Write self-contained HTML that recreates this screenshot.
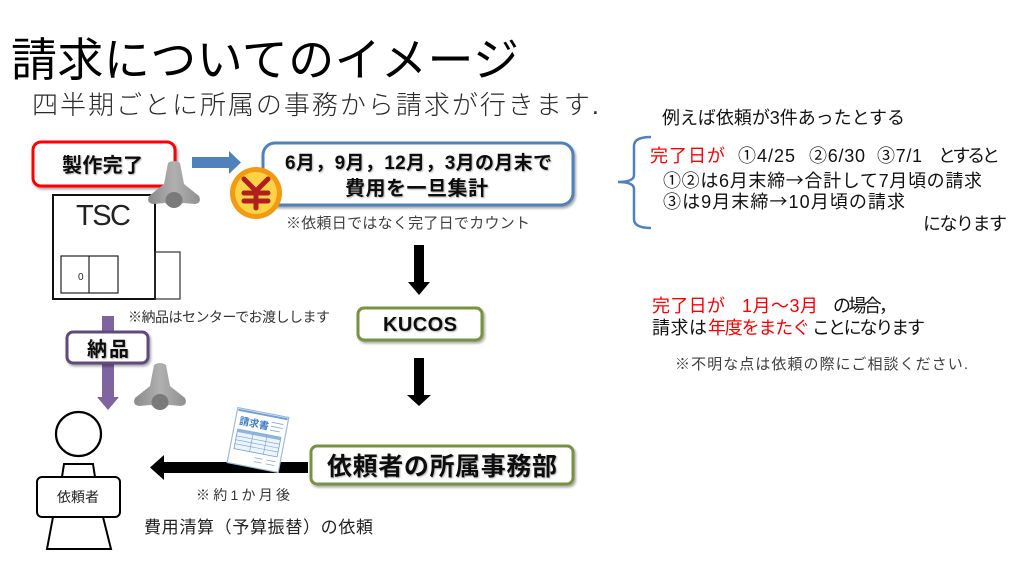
<!DOCTYPE html>
<html><head><meta charset="utf-8">
<style>
html,body{margin:0;padding:0;background:#fff;}
svg{display:block;}
text{font-family:"Liberation Sans","Noto Sans CJK JP",sans-serif;}
</style></head>
<body>
<svg width="1024" height="576" viewBox="0 0 1024 576" xmlns="http://www.w3.org/2000/svg">
<defs>
<filter id="sh" x="-10%" y="-20%" width="130%" height="150%">
<feDropShadow dx="1.5" dy="2" stdDeviation="1.2" flood-color="#000" flood-opacity="0.35"/>
</filter>
<filter id="ts" x="-5%" y="-20%" width="115%" height="150%">
<feDropShadow dx="1" dy="1" stdDeviation="0.8" flood-color="#000" flood-opacity="0.3"/>
</filter>
<linearGradient id="dg" x1="0" y1="0" x2="1" y2="0">
<stop offset="0" stop-color="#8a8a8a"/><stop offset="0.5" stop-color="#b0b0b0"/><stop offset="1" stop-color="#909090"/>
</linearGradient>
<g id="drone">
<path d="M21,3 Q27,-1 33,3 L37,24 L52,36 Q55,43 48,44 L36,43 Q27,50 18,43 L6,44 Q-1,43 2,36 L17,24 Z" fill="url(#dg)"/>
<ellipse cx="27" cy="40" rx="8.5" ry="8" fill="#7a7a7a"/>
</g>
</defs>

<!-- Title -->
<text x="11" y="76" font-size="46" fill="#000" textLength="508" lengthAdjust="spacing">請求についてのイメージ</text>
<text x="32" y="114" font-size="26" fill="#2a2a2a" font-weight="300" textLength="567" lengthAdjust="spacing">四半期ごとに所属の事務から請求が行きます.</text>

<!-- Red box -->
<rect x="33" y="142" width="142" height="44" rx="8" fill="#fff" stroke="#ff0000" stroke-width="3" filter="url(#sh)"/>
<text x="62" y="172" font-size="20" font-weight="bold" fill="#111" textLength="81" lengthAdjust="spacing" filter="url(#ts)">製作完了</text>

<!-- Blue arrow -->
<polygon points="192,157 229,157 229,151 241,162.5 229,174 229,168 192,168" fill="#4f81bd"/>

<!-- Blue box -->
<rect x="263" y="143" width="310" height="62" rx="12" fill="#fff" stroke="#4f81bd" stroke-width="3" filter="url(#sh)"/>
<text x="285" y="169" font-size="19" font-weight="bold" fill="#111" textLength="267" lengthAdjust="spacing" filter="url(#ts)">6月，9月，12月，3月の月末で</text>
<text x="345" y="195" font-size="20" font-weight="bold" fill="#111" textLength="143" lengthAdjust="spacing" filter="url(#ts)">費用を一旦集計</text>

<!-- Yen coin -->
<circle cx="256" cy="193" r="26" fill="#f39a12"/>
<circle cx="256" cy="193" r="21" fill="#fcd246"/>
<g stroke="#b01e1e" stroke-width="5" fill="none" stroke-linecap="round">
<polyline points="244,179 256,191 268,179"/>
<line x1="256" y1="191" x2="256" y2="208"/>
<line x1="244" y1="193" x2="268" y2="193"/>
<line x1="244" y1="201" x2="268" y2="201"/>
</g>

<text x="286" y="228" font-size="15" fill="#404040" textLength="244" lengthAdjust="spacing">※依頼日ではなく完了日でカウント</text>

<!-- Down arrow 1 -->
<rect x="414" y="245" width="10" height="38" fill="#000"/>
<polygon points="408,282 430,282 419,295" fill="#000"/>

<!-- KUCOS -->
<rect x="358" y="308" width="124" height="32" rx="6" fill="#fff" stroke="#77933c" stroke-width="3" filter="url(#sh)"/>
<text x="383" y="331" font-size="20" font-weight="bold" fill="#111" textLength="74" lengthAdjust="spacing" filter="url(#ts)">KUCOS</text>

<!-- Down arrow 2 -->
<rect x="414" y="358" width="10" height="38" fill="#000"/>
<polygon points="407,395 431,395 419,406" fill="#000"/>

<!-- Dept box -->
<rect x="311" y="446" width="262" height="38" rx="6" fill="#fff" stroke="#77933c" stroke-width="3" filter="url(#sh)"/>
<text x="327" y="475" font-size="25" font-weight="bold" fill="#111" textLength="230" lengthAdjust="spacing" filter="url(#ts)">依頼者の所属事務部</text>

<!-- Left arrow -->
<rect x="162" y="462" width="146" height="11" fill="#000"/>
<polygon points="164,455 164,480 150,467.5" fill="#000"/>

<!-- Invoice -->
<g transform="rotate(11 258 440)">
<rect x="232" y="412" width="52" height="56" fill="#fff" stroke="#9dbbd9" stroke-width="1.2"/>
<line x1="233" y1="414" x2="283" y2="414" stroke="#6fa0d6" stroke-width="2"/>
<text x="236" y="428" font-size="10" font-weight="bold" fill="#3d7cc9">請求書</text>
<g stroke="#7aa3cf" stroke-width="0.8">
<line x1="268" y1="420" x2="280" y2="420"/><line x1="268" y1="424" x2="280" y2="424"/><line x1="268" y1="428" x2="278" y2="428"/>
</g>
<rect x="236" y="433" width="44" height="20" fill="#eef4fb" stroke="#6fa0d6" stroke-width="0.8"/>
<rect x="236" y="433" width="44" height="3" fill="#8fb5df"/>
<g stroke="#6fa0d6" stroke-width="0.6">
<line x1="236" y1="440" x2="280" y2="440"/><line x1="236" y1="444" x2="280" y2="444"/><line x1="236" y1="448" x2="280" y2="448"/>
<line x1="252" y1="433" x2="252" y2="453"/><line x1="266" y1="433" x2="266" y2="453"/>
</g>
<g stroke="#8aa9c9" stroke-width="0.8">
<line x1="258" y1="458" x2="266" y2="458"/><line x1="270" y1="458" x2="279" y2="458"/>
<line x1="258" y1="462" x2="266" y2="462"/><line x1="270" y1="462" x2="279" y2="462"/>
</g>
</g>

<text x="196" y="500" font-size="14" fill="#333" textLength="94" lengthAdjust="spacing">※約1か月後</text>
<text x="144" y="533" font-size="17" fill="#222" textLength="229" lengthAdjust="spacing">費用清算（予算振替）の依頼</text>

<!-- TSC -->
<rect x="53" y="195" width="102" height="104" fill="#fff" stroke="#111" stroke-width="2"/>
<text x="76" y="225" font-size="29" fill="#222" textLength="55" lengthAdjust="spacing">TSC</text>
<rect x="61" y="256" width="57" height="37" fill="none" stroke="#222" stroke-width="1.2"/>
<line x1="89" y1="256" x2="89" y2="293" stroke="#222" stroke-width="1.2"/>
<text x="78" y="280" font-size="10" fill="#222">0</text>
<rect x="155" y="252" width="25" height="47" fill="none" stroke="#333" stroke-width="1.2"/>

<!-- drones -->
<use href="#drone" x="147" y="160"/>
<use href="#drone" x="133" y="362"/>

<text x="128" y="322" font-size="14" fill="#333" textLength="202" lengthAdjust="spacing">※納品はセンターでお渡しします</text>

<!-- Purple arrow -->
<rect x="102" y="316" width="12" height="82" fill="#8064a2"/>
<polygon points="97,397 119,397 108,410" fill="#8064a2"/>
<rect x="67" y="332" width="81" height="31" rx="6" fill="#fff" stroke="#604a7b" stroke-width="3" filter="url(#sh)"/>
<text x="87" y="356" font-size="20" font-weight="bold" fill="#111" textLength="42" lengthAdjust="spacing" filter="url(#ts)">納品</text>

<!-- Person -->
<ellipse cx="78.5" cy="434" rx="22.5" ry="22" fill="#fff" stroke="#000" stroke-width="2.2"/>
<polygon points="64,464 93,464 95,477 62,477" fill="#fff" stroke="#000" stroke-width="2"/>
<polygon points="53,517 103,517 111,549 47,549" fill="#fff" stroke="#000" stroke-width="2"/>
<rect x="37" y="477" width="83" height="40" rx="5" fill="#fff" stroke="#000" stroke-width="2"/>
<text x="57" y="502" font-size="14" fill="#222" textLength="42" lengthAdjust="spacing">依頼者</text>

<!-- Right side -->
<text x="662" y="124" font-size="18" fill="#111" textLength="243" lengthAdjust="spacing">例えば依頼が3件あったとする</text>
<path d="M651,137 Q634,137 634,146 L634,175 Q634,182 618,182 Q634,182 634,189 L634,219 Q634,228 651,228" fill="none" stroke="#4f81bd" stroke-width="2.5"/>
<text x="650" y="162" font-size="18" fill="#ff0000" textLength="75" lengthAdjust="spacing">完了日が</text>
<text x="738" y="162" font-size="18" fill="#111" textLength="57" lengthAdjust="spacing">①4/25</text>
<text x="809" y="162" font-size="18" fill="#111" textLength="56" lengthAdjust="spacing">②6/30</text>
<text x="877" y="162" font-size="18" fill="#111" textLength="45" lengthAdjust="spacing">③7/1</text>
<text x="938" y="162" font-size="18" fill="#111" textLength="62" lengthAdjust="spacing">とすると</text>
<text x="663" y="187" font-size="18" fill="#111" textLength="319" lengthAdjust="spacing">①②は6月末締<tspan font-family="Noto Sans CJK JP, sans-serif">→</tspan>合計して7月頃の請求</text>
<text x="663" y="208" font-size="18" fill="#111" textLength="242" lengthAdjust="spacing">③は9月末締<tspan font-family="Noto Sans CJK JP, sans-serif">→</tspan>10月頃の請求</text>
<text x="923" y="230" font-size="18" fill="#111" textLength="84" lengthAdjust="spacing">になります</text>

<text x="652" y="312" font-size="18" fill="#ff0000" textLength="73" lengthAdjust="spacing">完了日が</text>
<text x="742" y="312" font-size="18" fill="#ff0000" textLength="76" lengthAdjust="spacing">1月〜3月</text>
<text x="833" y="312" font-size="18" fill="#111" textLength="64" lengthAdjust="spacing">の場合，</text>
<text x="652" y="334" font-size="18" fill="#111" textLength="55" lengthAdjust="spacing">請求は</text>
<text x="708" y="334" font-size="18" fill="#ff0000" textLength="102" lengthAdjust="spacing">年度をまたぐ</text>
<text x="812" y="334" font-size="18" fill="#111" textLength="113" lengthAdjust="spacing">ことになります</text>
<text x="675" y="369" font-size="15" fill="#404040" textLength="293" lengthAdjust="spacing">※不明な点は依頼の際にご相談ください.</text>
</svg>
</body></html>
